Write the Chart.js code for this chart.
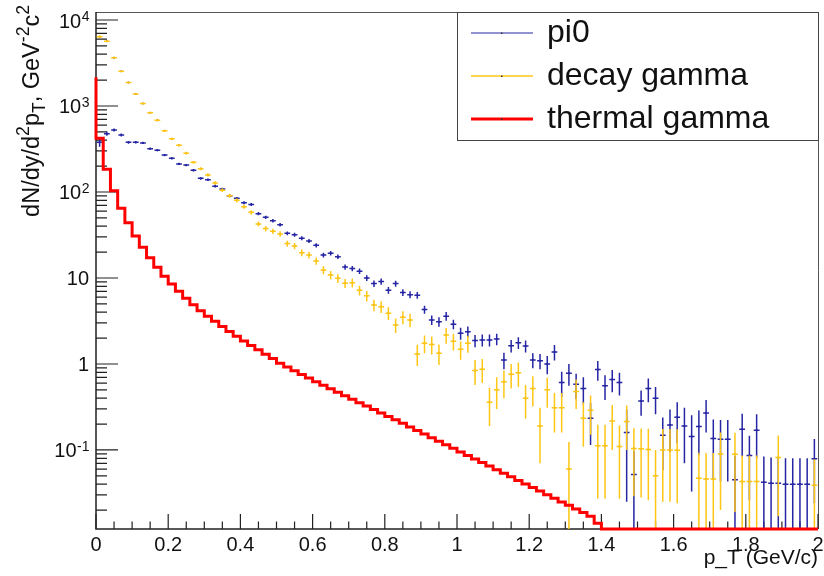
<!DOCTYPE html>
<html>
<head>
<meta charset="utf-8">
<script src="https://cdn.jsdelivr.net/npm/chart.js@4.4.0/dist/chart.umd.min.js"></script>
<style>
  html, body { margin: 0; padding: 0; background: #fff; }
  #wrap { position: relative; width: 824px; height: 576px; }
</style>
</head>
<body>
<div id="wrap"><canvas id="c" width="824" height="576"></canvas></div>
<script>
// binning: 100 bins of 0.02 GeV/c between 0 and 2
const PT_MIN = 0, PT_MAX = 2, N_BINS = 100;
const BIN_W = (PT_MAX - PT_MIN) / N_BINS;
const Y_MIN = 0.01205, Y_MAX = 12390;

const pi0 = [
  378, 477, 526, 460, 378, 380, 372, 319, 306, 269,
  246, 212, 206, 179, 144, 139, 117, 108, 90.6, 84.4,
  75.1, 71.5, 56, 50.8, 46.4, 41.7, 33.1, 31.9, 29, 26.9,
  24, 18.5, 19.4, 17.7, 13.4, 12.9, 12.0, 10, 8.6, 9.1,
  7.2, 8.6, 6.8, 6.4, 6.3, 4.3, 3.25, 3.1, 3.6, 2.9,
  2.27, 2.37, 1.87, 1.9, 1.9, 1.95, 1.11, 1.63, 1.77, 1.62,
  1.11, 1.09, 1.0, 1.38, 0.61, 0.78, 0.58, 0.52, 0.234, 0.86,
  0.56, 0.66, 0.61, 0.16, 0.052, 0.37, 0.52, 0.40, 0.148, 0.195,
  0.24, 0.19, 0.143, 0.187, 0.27, 0.136, 0.133, 0.133, 0.045, 0.174,
  0.086, 0.17, 0.042, 0.041, 0.041, 0.040, 0.040, 0.040, 0.040, 0.079
];
const pi0Err = [
  42, 27, 22, 17.6, 14, 12.7, 11.6, 10, 9.2, 8.2,
  7.4, 6.6, 6.2, 5.6, 4.8, 4.6, 4.1, 3.8, 3.4, 3.2,
  2.9, 2.8, 2.4, 2.3, 2.1, 2.0, 1.7, 1.65, 1.55, 1.46,
  1.36, 1.18, 1.18, 1.11, 0.95, 0.92, 0.88, 0.79, 0.72, 0.74,
  0.65, 0.7, 0.61, 0.59, 0.58, 0.47, 0.41, 0.39, 0.42, 0.37,
  0.36, 0.35, 0.3, 0.3, 0.3, 0.3, 0.24, 0.27, 0.28, 0.26,
  0.22, 0.22, 0.24, 0.28, 0.2, 0.22, 0.19, 0.18, 0.12, 0.22,
  0.18, 0.19, 0.18, 0.135, 0.045, 0.12, 0.16, 0.14, 0.09, 0.1,
  0.12, 0.12, 0.11, 0.1, 0.11, 0.09, 0.09, 0.09, 0.04, 0.09,
  0.06, 0.09, 0.042, 0.041, 0.041, 0.04, 0.04, 0.04, 0.04, 0.055
];

const decayGamma = [
  6400, 5680, 3650, 2530, 1870, 1375, 1070, 833, 681, 514,
  415, 349, 283, 221, 186, 158, 127, 105, 90.6, 80,
  67.5, 58, 42.5, 37.5, 34.9, 32.5, 25.1, 23.6, 19.7, 18.5,
  15.8, 12.4, 10.8, 9.9, 8.7, 8.8, 7.2, 6.2, 4.85, 4.64,
  3.9, 2.84, 3.5, 3.25, 1.31, 1.74, 1.69, 1.33, 2.17, 1.84,
  1.48, 1.74, 0.84, 0.87, 0.36, 0.50, 0.62, 0.76, 0.79, 0.40,
  0.52, 0.19, 0.50, 0.31, 0.31, 0.060, 0.48, 0.234, 0.29, 0.112,
  0.112, 0.217, 0.11, 0.214, 0.104, 0.103, 0.101, 0.05, 0.1, 0.1,
  0.099, null, null, 0.047, 0.046, 0.046, 0.09, null, 0.089, 0.043,
  0.043, 0.043, null, null, 0.082, null, null, null, null, 0.039
];
const decayErr = [
  240, 130, 81, 57, 43, 34, 27, 22, 19, 15.5,
  13.3, 11.7, 10.1, 8.5, 7.6, 6.8, 5.9, 5.2, 4.7, 4.3,
  3.85, 3.5, 2.9, 2.7, 2.5, 2.4, 2.07, 1.97, 1.76, 1.68,
  1.53, 1.33, 1.22, 1.15, 1.06, 1.06, 0.94, 0.86, 0.75, 0.73,
  0.66, 0.55, 0.61, 0.58, 0.36, 0.41, 0.4, 0.36, 0.45, 0.41,
  0.36, 0.39, 0.27, 0.27, 0.17, 0.2, 0.22, 0.24, 0.25, 0.17,
  0.2, 0.12, 0.19, 0.15, 0.15, 0.064, 0.18, 0.125, 0.14, 0.085,
  0.085, 0.117, 0.083, 0.114, 0.075, 0.075, 0.075, 0.05, 0.075, 0.075,
  0.075, null, null, 0.046, 0.046, 0.046, 0.07, null, 0.07, 0.043,
  0.043, 0.043, null, null, 0.065, null, null, null, null, 0.039
];

const thermalGamma = [
  2160, 421, 184, 103.5, 64.6, 44.0, 30.8, 22.7, 17.2, 13.3,
  10.5, 8.51, 7.0, 5.82, 4.90, 4.17, 3.59, 3.13, 2.72, 2.39,
  2.10, 1.85, 1.64, 1.46, 1.30, 1.16, 1.02, 0.923, 0.834, 0.755,
  0.685, 0.622, 0.566, 0.515, 0.469, 0.427, 0.389, 0.355, 0.324, 0.295,
  0.269, 0.245, 0.224, 0.204, 0.185, 0.168, 0.153, 0.139, 0.126, 0.115,
  0.1045, 0.095, 0.0863, 0.0785, 0.0713, 0.0649, 0.0589, 0.0536, 0.0488, 0.0443,
  0.0403, 0.0366, 0.0333, 0.0302, 0.0275, 0.0249, 0.0227, 0.0206, 0.0187, 0.0170,
  0.0141, 0, 0, 0, 0, 0, 0, 0, 0, 0,
  0, 0, 0, 0, 0, 0, 0, 0, 0, 0,
  0, 0, 0, 0, 0, 0, 0, 0, 0, 0
];

const xTickValues = [0, 0.2, 0.4, 0.6, 0.8, 1, 1.2, 1.4, 1.6, 1.8, 2];
const xTickLabels = ['0', '0.2', '0.4', '0.6', '0.8', '1', '1.2', '1.4', '1.6', '1.8', '2'];
const yTickValues = [0.1, 1, 10, 100, 1000, 10000];
const yTickLabels = ['10^-1', '1', '10', '10^2', '10^3', '10^4'];
const legendLabels = ['pi0', 'decay gamma', 'thermal gamma'];

const PI0_COLOR = 'rgb(38,38,165)';
const DECAY_COLOR = 'rgb(255,198,20)';
const THERMAL_COLOR = '#ff0000';
const FONT = '"Liberation Sans", Arial, Helvetica, sans-serif';
const X_ERR = 0.008;

const binCenter = i => PT_MIN + (i + 0.5) * BIN_W;
const toPoints = vals => vals.map((v, i) => v == null ? null : { x: binCenter(i), y: v }).filter(p => p);

// histogram outline: one point per bin low edge, plus the upper edge
const thermalSteps = thermalGamma.map((v, i) => ({ x: PT_MIN + i * BIN_W, y: v > 0 ? v : Y_MIN }));
thermalSteps.push({ x: PT_MAX, y: thermalSteps[thermalSteps.length - 1].y });

function drawErrors(chart, vals, errs, color) {
  const { ctx, chartArea: ca } = chart;
  const xs = chart.scales.x, ys = chart.scales.y;
  ctx.save();
  ctx.beginPath();
  ctx.rect(ca.left, ca.top, ca.right - ca.left, ca.bottom - ca.top);
  ctx.clip();
  ctx.strokeStyle = color;
  ctx.lineWidth = 1.5;
  ctx.beginPath();
  vals.forEach((v, i) => {
    if (v == null) return;
    const c = binCenter(i);
    const e = errs[i];
    const px = xs.getPixelForValue(c);
    const py = ys.getPixelForValue(v);
    const hi = ys.getPixelForValue(v + e);
    const lo = v - e > Y_MIN ? ys.getPixelForValue(v - e) : ca.bottom;
    ctx.moveTo(px, hi);
    ctx.lineTo(px, lo);
    ctx.moveTo(xs.getPixelForValue(c - X_ERR), py);
    ctx.lineTo(xs.getPixelForValue(c + X_ERR), py);
  });
  ctx.stroke();
  ctx.restore();
}

// draws a run of text pieces with sub/superscripts, right end at (0,0)
function drawRich(ctx, parts, size) {
  const pieces = parts.map(p => {
    const s = p.sup || p.sub ? size * 0.75 : size;
    ctx.font = s + 'px ' + FONT;
    return { ...p, s, w: ctx.measureText(p.t).width };
  });
  let x = -pieces.reduce((a, p) => a + p.w, 0);
  pieces.forEach(p => {
    ctx.font = p.s + 'px ' + FONT;
    const dy = p.sup ? -size * 0.42 : p.sub ? size * 0.25 : 0;
    ctx.fillText(p.t, x, dy);
    x += p.w;
  });
}

const rootFrame = {
  id: 'rootFrame',
  beforeDatasetsDraw(chart) {
    const { ctx, chartArea: ca } = chart;
    const xs = chart.scales.x, ys = chart.scales.y;
    ctx.save();
    // frame
    ctx.strokeStyle = '#555';
    ctx.lineWidth = 1;
    ctx.beginPath();
    ctx.moveTo(ca.left, ca.top + 0.5);
    ctx.lineTo(ca.right + 0.5, ca.top + 0.5);
    ctx.lineTo(ca.right + 0.5, ca.bottom);
    ctx.stroke();
    ctx.strokeStyle = '#222';
    ctx.lineWidth = 1.5;
    ctx.beginPath();
    ctx.moveTo(ca.left, ca.top);
    ctx.lineTo(ca.left, ca.bottom);
    ctx.lineTo(ca.right, ca.bottom);
    ctx.stroke();
    // x ticks (inside)
    ctx.lineWidth = 1.2;
    ctx.beginPath();
    for (let k = 0; k <= 40; k++) {
      const px = xs.getPixelForValue(PT_MIN + k * 0.05);
      const len = k % 4 === 0 ? 15 : 7.5;
      ctx.moveTo(px, ca.bottom);
      ctx.lineTo(px, ca.bottom - len);
    }
    // y ticks (inside)
    for (let e = -2; e <= 4; e++) {
      for (let m = 1; m <= 9; m++) {
        const v = m * Math.pow(10, e);
        if (v < Y_MIN || v > Y_MAX) continue;
        const py = ys.getPixelForValue(v);
        ctx.moveTo(ca.left, py);
        ctx.lineTo(ca.left + (m === 1 ? 22 : 11), py);
      }
    }
    ctx.stroke();
    ctx.restore();
  },
  afterDatasetDraw(chart, args) {
    if (args.index === 2) drawErrors(chart, pi0, pi0Err, PI0_COLOR);
    if (args.index === 1) drawErrors(chart, decayGamma, decayErr, DECAY_COLOR);
  },
  afterDraw(chart) {
    const { ctx, chartArea: ca } = chart;
    const xs = chart.scales.x, ys = chart.scales.y;
    ctx.save();
    ctx.fillStyle = '#111';
    // x labels
    ctx.font = '20px ' + FONT;
    ctx.textAlign = 'center';
    ctx.textBaseline = 'alphabetic';
    xTickValues.forEach((v, i) => ctx.fillText(xTickLabels[i], xs.getPixelForValue(v), 551));
    // y labels with exponents
    ctx.textAlign = 'left';
    yTickValues.forEach((v, i) => {
      const [base, exp] = yTickLabels[i].split('^');
      const py = ys.getPixelForValue(v);
      ctx.font = '20px ' + FONT;
      const wb = ctx.measureText(base).width;
      ctx.font = '14px ' + FONT;
      const we = exp ? ctx.measureText(exp).width : 0;
      const x0 = 89 - wb - we;
      ctx.font = '20px ' + FONT;
      ctx.fillText(base, x0, py + 7.5);
      if (exp) {
        ctx.font = '14px ' + FONT;
        ctx.fillText(exp, x0 + wb + 0.5, py + 1);
      }
    });
    // x title
    ctx.font = '21px ' + FONT;
    ctx.textAlign = 'right';
    ctx.fillText('p_T (GeV/c)', ca.right, 564);
    // y title
    ctx.save();
    ctx.translate(39, 5);
    ctx.rotate(-Math.PI / 2);
    ctx.textAlign = 'left';
    drawRich(ctx, [
      { t: 'dN/dy/d' }, { t: '2', sup: true }, { t: 'p' }, { t: 'T', sub: true },
      { t: ', GeV' }, { t: '-2', sup: true }, { t: 'c' }, { t: '2', sup: true }
    ], 23.5);
    ctx.restore();

    // legend box
    const L = { left: 457, top: ca.top, right: ca.right, bottom: 140 };
    ctx.fillStyle = '#fff';
    ctx.fillRect(L.left, L.top, L.right - L.left, L.bottom - L.top);
    ctx.strokeStyle = '#444';
    ctx.lineWidth = 1;
    ctx.strokeRect(L.left + 0.5, L.top + 0.5, L.right - L.left, L.bottom - L.top);
    const entries = [
      { color: PI0_COLOR, width: 1.2 },
      { color: DECAY_COLOR, width: 1.5 },
      { color: THERMAL_COLOR, width: 3 }
    ];
    ctx.font = '32px ' + FONT;
    ctx.textAlign = 'left';
    entries.forEach((en, i) => {
      const base = 42 + i * 43;
      const ly = base - 9;
      ctx.strokeStyle = en.color;
      ctx.lineWidth = en.width;
      ctx.beginPath();
      ctx.moveTo(471, ly);
      ctx.lineTo(533, ly);
      ctx.stroke();
      ctx.fillStyle = '#333';
      ctx.fillRect(501, ly - 0.5, 1.5, 1.5);
      ctx.fillStyle = '#111';
      ctx.fillText(legendLabels[i], 547, base);
    });
    ctx.restore();
  }
};

new Chart(document.getElementById('c'), {
  type: 'scatter',
  data: {
    datasets: [
      {
        label: legendLabels[2],
        data: thermalSteps,
        showLine: true,
        stepped: 'after',
        borderColor: THERMAL_COLOR,
        borderWidth: 3,
        pointRadius: 0,
        fill: false,
        clip: false
      },
      {
        label: legendLabels[1],
        data: toPoints(decayGamma),
        pointRadius: 1,
        pointBackgroundColor: '#333',
        pointBorderWidth: 0
      },
      {
        label: legendLabels[0],
        data: toPoints(pi0),
        pointRadius: 1,
        pointBackgroundColor: '#101050',
        pointBorderWidth: 0
      }
    ]
  },
  options: {
    responsive: false,
    animation: false,
    events: [],
    layout: { padding: { left: 96, right: 6, top: 12, bottom: 47 } },
    plugins: { legend: { display: false }, tooltip: { enabled: false } },
    scales: {
      x: { type: 'linear', min: PT_MIN, max: PT_MAX, display: false },
      y: { type: 'logarithmic', min: Y_MIN, max: Y_MAX, display: false }
    }
  },
  plugins: [rootFrame]
});
</script>
</body>
</html>
